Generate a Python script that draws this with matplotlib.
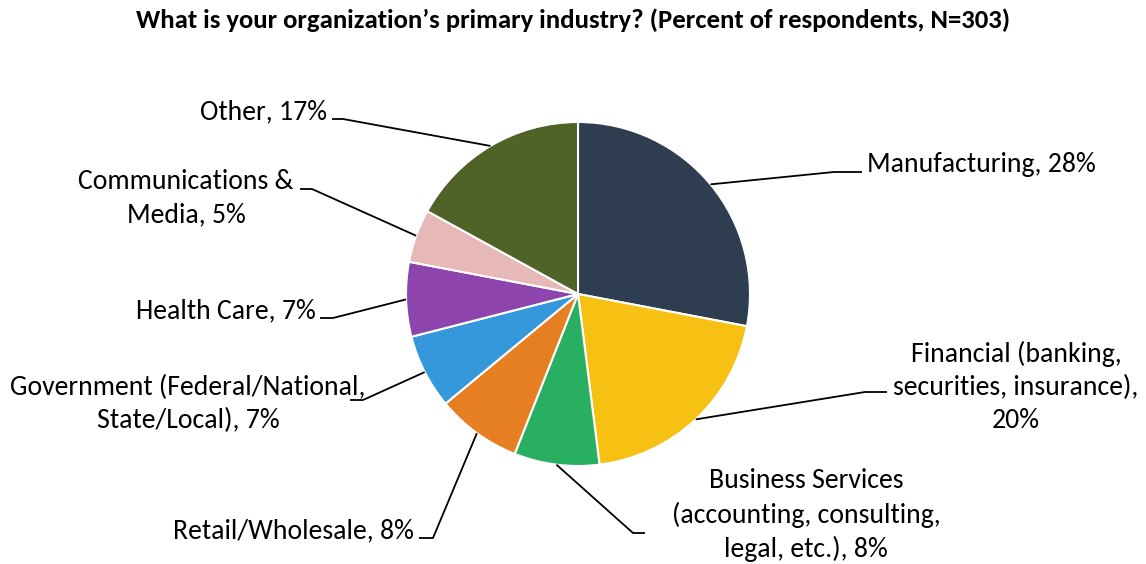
import numpy as np
import matplotlib
matplotlib.use("Agg")
import matplotlib.pyplot as plt

# ---- data ----
categories = ["Manufacturing", "Financial (banking, securities, insurance)",
              "Business Services (accounting, consulting, legal, etc.)",
              "Retail/Wholesale", "Government (Federal/National, State/Local)",
              "Health Care", "Communications & Media", "Other"]
values = [28, 20, 8, 8, 7, 7, 5, 17]
label_texts = ["Manufacturing, 28%",
               "Financial (banking,\nsecurities, insurance),\n20%",
               "Business Services\n(accounting, consulting,\nlegal, etc.), 8%",
               "Retail/Wholesale, 8%",
               "Government (Federal/National,\nState/Local), 7%",
               "Health Care, 7%",
               "Communications &\nMedia, 5%",
               "Other, 17%"]
colors = ["#2E3E50", "#F7C114", "#28AF62", "#E67E22", "#3498DB",
          "#8E44AD", "#E6B8B7", "#4F6228"]
title = "What is your organization\u2019s primary industry? (Percent of respondents, N=303)"

# ---- layout (pixel coordinates from top-left) ----
W, H = 1146, 564
center_px = (578, 294)
radius_px = 172
# (elbow x, elbow y, line end x, text x, last-line baseline y, ha)
layout = [
    (834, 172, 862, 867, 172, "left"),
    (865, 392, 887, 1016, 428, "center"),
    (633, 533, 645, 806, 557, "center"),
    (433, 538, 419, 414, 538, "right"),
    (363, 400, 350, 188, 428, "center"),
    (333, 318, 320, 316, 318, "right"),
    (312, 189, 300, 186, 222, "center"),
    (343, 119, 332, 327, 119, "right"),
]

plt.rcParams["font.family"] = ["Carlito", "DejaVu Sans"]
fig = plt.figure(figsize=(W / 100, H / 100), dpi=100)
ax = fig.add_axes([0, 0, 1, 1])

cx, cy = center_px[0], H - center_px[1]
wedges, _ = ax.pie(values, colors=colors, startangle=90, counterclock=False,
                   center=(cx, cy), radius=radius_px,
                   wedgeprops=dict(edgecolor="white", linewidth=1.5))
ax.set_xlim(0, W)
ax.set_ylim(0, H)
ax.set_aspect("auto")
ax.axis("off")

for w, txt, (ex, ey, lx, tx, ty, ha) in zip(wedges, label_texts, layout):
    ang = np.deg2rad((w.theta1 + w.theta2) / 2)
    px = cx + radius_px * np.cos(ang)
    py = cy + radius_px * np.sin(ang)
    ax.plot([px, ex, lx], [py, H - ey, H - ey], color="black", lw=1.3,
            solid_capstyle="butt", zorder=3)
    ax.text(tx, H - ty, txt, ha=ha, va="baseline", multialignment="center",
            fontsize=20, color="black", linespacing=1.39)

fig.text(573 / W, 1 - 28 / H, title, ha="center", va="baseline",
         fontsize=19.3, fontweight="bold", color="black")

fig.savefig("out.png", dpi=100, facecolor="white")
